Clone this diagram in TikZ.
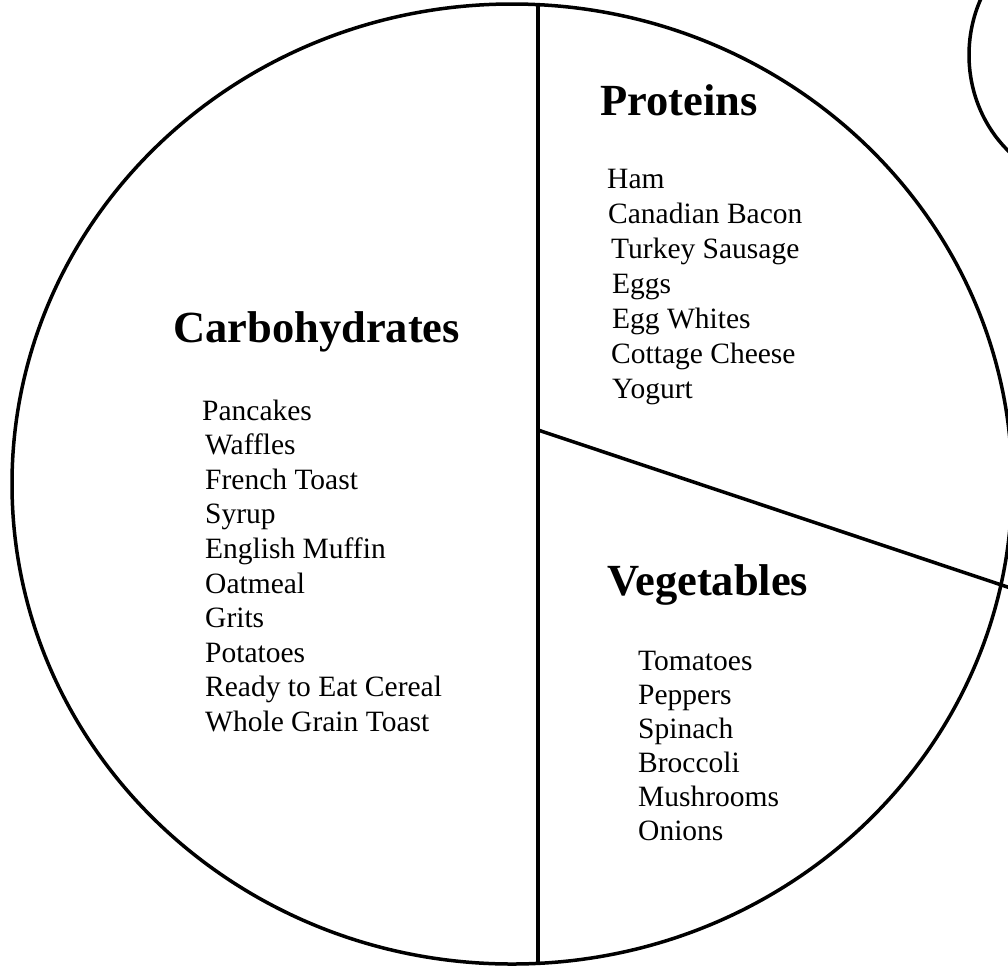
\documentclass[tikz,border=0pt]{standalone}
\usepackage{fontspec}
\setmainfont{Liberation Serif}
\usetikzlibrary{positioning}
\tikzset{
  rim/.style={line width=3.5pt, black},
  heading/.style={anchor=base west, inner sep=0pt, font=\fontsize{44.5}{52}\selectfont\bfseries},
  item/.style={anchor=base west, inner sep=0pt, font=\fontsize{29.5}{34.6}\selectfont},
}
\begin{document}
\begin{tikzpicture}[x=1pt,y=-1pt]
\useasboundingbox (0,0) rectangle (1008,967);
\clip (0,0) rectangle (1008,967);
\fill[white] (0,0) rectangle (1008,967);
% plate and side plate
\draw[rim] (512,484) ellipse [x radius=500, y radius=480];
\draw[rim] (1090,55) ellipse [x radius=121, y radius=130];
% dividers
\coordinate (top) at (538,4.6);
\coordinate (bottom) at (538,963.4);
\coordinate (split) at (538,430);
\coordinate (rightend) at (1012,588.5);
\draw[rim] (top) -- (bottom);
\draw[rim] (split) -- (rightend);
% Carbohydrates
\node[heading] (carbh) at (173,342) {Carbohydrates};
\node[item] (c1) at (202,420) {Pancakes};
\node[item] (c2) at (205,454.6) {Waffles};
\node[item] (c3) at (205,489.2) {French Toast};
\node[item] (c4) at (205,523.8) {Syrup};
\node[item] (c5) at (205,558.4) {English Muffin};
\node[item] (c6) at (205,593) {Oatmeal};
\node[item] (c7) at (205,627.6) {Grits};
\node[item] (c8) at (205,662.2) {Potatoes};
\node[item] (c9) at (205,696.8) {Ready to Eat Cereal};
\node[item] (c10) at (205,731.4) {Whole Grain Toast};
% Proteins
\node[heading] (proh) at (600,115) {Proteins};
\node[item] (p1) at (607,188) {Ham};
\node[item] (p2) at (608,223) {Canadian Bacon};
\node[item] (p3) at (611,258) {Turkey Sausage};
\node[item] (p4) at (612,293) {Eggs};
\node[item] (p5) at (612,328) {Egg Whites};
\node[item] (p6) at (611,363) {Cottage Cheese};
\node[item] (p7) at (612,398) {Yogurt};
% Vegetables
\node[heading] (vegh) at (607,595) {Vegetables};
\node[item] (v1) at (638,670) {Tomatoes};
\node[item] (v2) at (638,704) {Peppers};
\node[item] (v3) at (638,738) {Spinach};
\node[item] (v4) at (638,772) {Broccoli};
\node[item] (v5) at (638,806) {Mushrooms};
\node[item] (v6) at (638,840) {Onions};
\end{tikzpicture}
\end{document}
